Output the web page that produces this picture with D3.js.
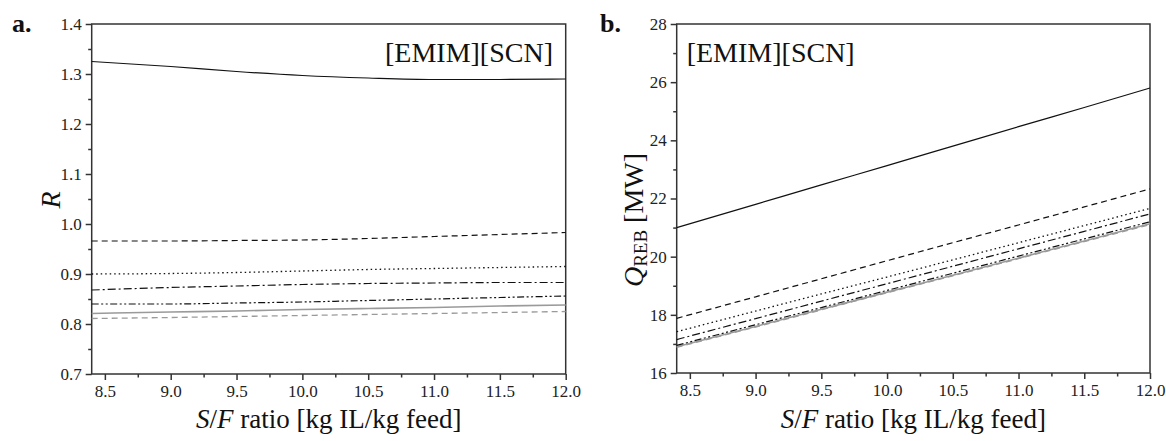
<!DOCTYPE html>
<html>
<head>
<meta charset="utf-8">
<script src="https://cdn.jsdelivr.net/npm/d3@7"></script>
<style>
  html, body { margin: 0; padding: 0; background: #fff; }
  svg text { font-family: "Liberation Serif", Tinos, "Times New Roman", Times, "Nimbus Roman", "DejaVu Serif", serif !important; }
</style>
</head>
<body>
<svg id="chart" width="1166" height="441"></svg>
<script>
// ---------- data ----------
const sfRatio = [8.4, 9.0, 9.5, 10.0, 10.5, 11.0, 11.5, 12.0];

// panel a: R
const rSolid      = [1.325, 1.315, 1.305, 1.297, 1.292, 1.289, 1.289, 1.290];
const rDashed     = [0.966, 0.966, 0.967, 0.968, 0.971, 0.975, 0.979, 0.983];
const rDotted     = [0.900, 0.901, 0.903, 0.906, 0.909, 0.911, 0.913, 0.915];
const rDashDot    = [0.868, 0.873, 0.876, 0.879, 0.881, 0.882, 0.883, 0.883];
const rDashDotDot = [0.840, 0.840, 0.842, 0.844, 0.847, 0.850, 0.853, 0.856];
const rGraySolid  = [0.821, 0.824, 0.826, 0.829, 0.831, 0.833, 0.836, 0.838];
const rGrayDashed = [0.811, 0.813, 0.815, 0.817, 0.819, 0.821, 0.823, 0.825];

// panel b: Q_REB [MW]
const qSolid      = [21.00, 21.80, 22.47, 23.13, 23.80, 24.47, 25.13, 25.80];
const qDashed     = [17.88, 18.62, 19.24, 19.86, 20.48, 21.09, 21.71, 22.33];
const qDotted     = [17.42, 18.13, 18.72, 19.30, 19.89, 20.48, 21.07, 21.66];
const qDashDot    = [17.15, 17.87, 18.47, 19.07, 19.67, 20.27, 20.87, 21.47];
const qDashDotDot = [16.95, 17.66, 18.25, 18.84, 19.43, 20.02, 20.61, 21.20];
const qGraySolid  = [16.90, 17.60, 18.19, 18.78, 19.36, 19.95, 20.54, 21.13];
const qGrayDashed = [16.88, 17.58, 18.17, 18.76, 19.34, 19.93, 20.52, 21.10];

const xTicks  = [8.5, 9.0, 9.5, 10.0, 10.5, 11.0, 11.5, 12.0];
const xMinor  = [8.75, 9.25, 9.75, 10.25, 10.75, 11.25, 11.75];
const rTicks  = [0.7, 0.8, 0.9, 1.0, 1.1, 1.2, 1.3, 1.4];
const rMinor  = [0.75, 0.85, 0.95, 1.05, 1.15, 1.25, 1.35];
const qTicks  = [16, 18, 20, 22, 24, 26, 28];
const qMinor  = [17, 19, 21, 23, 25, 27];

const ilName = "[EMIM][SCN]";

// ---------- styles ----------
const FONT = '"Liberation Serif", Tinos, "Times New Roman", Times, "Nimbus Roman", "DejaVu Serif", serif';
const styles = [
  { color: "#111", dash: null,              width: 1.2 },
  { color: "#111", dash: "6,4",             width: 1.2 },
  { color: "#111", dash: "1.5,3",           width: 1.3 },
  { color: "#111", dash: "8,3,2,3",         width: 1.2 },
  { color: "#111", dash: "7,2.5,2,2.5,2,2.5", width: 1.2 },
  { color: "#9a9a9a", dash: null,           width: 1.6 },
  { color: "#9a9a9a", dash: "6,4",          width: 1.3 }
];

const svg = d3.select("#chart");
const axisColor = "#333";

function panel(opts) {
  const x = d3.scaleLinear().domain([8.4, 12.0]).range([opts.x0, opts.x1]);
  const y = d3.scaleLinear().domain(opts.yDomain).range([opts.y1, opts.y0]);
  const g = svg.append("g");

  g.append("rect")
    .attr("x", opts.x0).attr("y", opts.y0)
    .attr("width", opts.x1 - opts.x0).attr("height", opts.y1 - opts.y0)
    .attr("fill", "none").attr("stroke", axisColor).attr("stroke-width", 1.5);

  const ax = g.append("g").attr("transform", `translate(0,${opts.y1})`)
    .call(d3.axisBottom(x).tickValues(xTicks).tickFormat(d3.format(".1f"))
      .tickSize(6).tickPadding(5));
  ax.attr("font-family", FONT);
  ax.select(".domain").remove();
  ax.selectAll("line").attr("stroke", axisColor).attr("stroke-width", 1.5);
  ax.selectAll("text").attr("font-size", 17).attr("fill", "#222").style("font-family", FONT);
  const axm = g.append("g").attr("transform", `translate(0,${opts.y1})`)
    .call(d3.axisBottom(x).tickValues(xMinor).tickFormat("").tickSize(3.5));
  axm.select(".domain").remove();
  axm.selectAll("line").attr("stroke", axisColor).attr("stroke-width", 1.5);

  const ay = g.append("g").attr("transform", `translate(${opts.x0},0)`)
    .call(d3.axisLeft(y).tickValues(opts.yTicks).tickFormat(opts.yFormat)
      .tickSize(6).tickPadding(4));
  ay.attr("font-family", FONT);
  ay.select(".domain").remove();
  ay.selectAll("line").attr("stroke", axisColor).attr("stroke-width", 1.5);
  ay.selectAll("text").attr("font-size", 17).attr("fill", "#222").style("font-family", FONT);
  const aym = g.append("g").attr("transform", `translate(${opts.x0},0)`)
    .call(d3.axisLeft(y).tickValues(opts.yMinor).tickFormat("").tickSize(3.5));
  aym.select(".domain").remove();
  aym.selectAll("line").attr("stroke", axisColor).attr("stroke-width", 1.5);

  const line = d3.line().x((d, i) => x(sfRatio[i])).y(d => y(d)).curve(d3.curveMonotoneX);
  const order = [5, 6, 4, 3, 2, 1, 0];
  order.forEach(k => {
    const s = styles[k];
    g.append("path").datum(opts.series[k])
      .attr("d", line).attr("fill", "none")
      .attr("stroke", s.color).attr("stroke-width", s.width)
      .attr("stroke-dasharray", s.dash);
  });

  const xt = g.append("text").attr("x", (opts.x0 + opts.x1) / 2).attr("y", 428)
    .attr("text-anchor", "middle").attr("font-size", 27).attr("fill", "#111")
    .style("font-family", FONT);
  xt.append("tspan").attr("font-style", "italic").text("S");
  xt.append("tspan").text("/");
  xt.append("tspan").attr("font-style", "italic").text("F");
  xt.append("tspan").text(" ratio [kg IL/kg feed]");

  g.append("text").attr("x", opts.ilX).attr("y", 62)
    .attr("text-anchor", opts.ilAnchor).attr("font-size", 28).attr("fill", "#111")
    .style("font-family", FONT).text(ilName);

  g.append("text").attr("x", opts.letterX).attr("y", 32)
    .attr("font-size", 26).attr("font-weight", "bold").attr("fill", "#111")
    .style("font-family", FONT).text(opts.letter);

  return { x, y, g };
}

const pa = panel({
  x0: 91.7, x1: 565.7, y0: 24, y1: 374,
  yDomain: [0.7, 1.4], yTicks: rTicks, yMinor: rMinor, yFormat: d3.format(".1f"),
  series: [rSolid, rDashed, rDotted, rDashDot, rDashDotDot, rGraySolid, rGrayDashed],
  ilX: 553, ilAnchor: "end", letter: "a.", letterX: 12
});
pa.g.append("text")
  .attr("transform", "translate(60,200) rotate(-90)")
  .attr("text-anchor", "middle").attr("font-size", 28).attr("font-style", "italic")
  .attr("fill", "#111").style("font-family", FONT).text("R");

const pb = panel({
  x0: 676.7, x1: 1150, y0: 24, y1: 373,
  yDomain: [16, 28], yTicks: qTicks, yMinor: qMinor, yFormat: d3.format("d"),
  series: [qSolid, qDashed, qDotted, qDashDot, qDashDotDot, qGraySolid, qGrayDashed],
  ilX: 686.7, ilAnchor: "start", letter: "b.", letterX: 600
});
const qt = pb.g.append("text")
  .attr("transform", "translate(643,220) rotate(-90)")
  .attr("text-anchor", "middle").attr("font-size", 28).attr("fill", "#111")
  .style("font-family", FONT);
qt.append("tspan").attr("font-style", "italic").text("Q");
qt.append("tspan").attr("font-size", 19).attr("baseline-shift", "-20%").text("REB");
qt.append("tspan").text(" [MW]");
</script>
</body>
</html>
